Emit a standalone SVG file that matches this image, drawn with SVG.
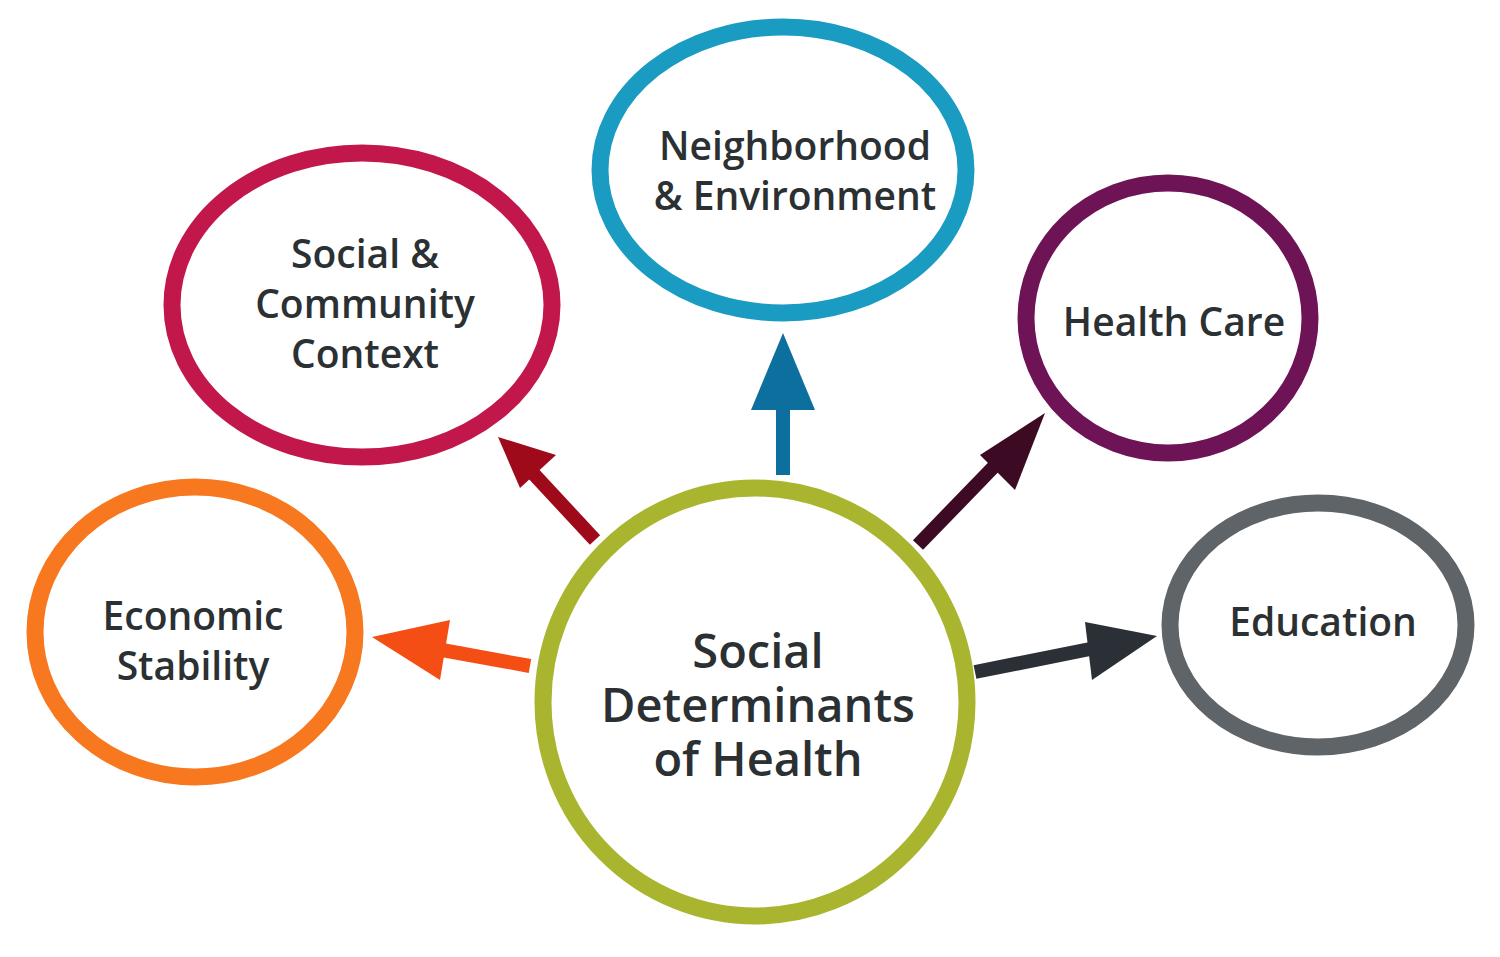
<svg xmlns="http://www.w3.org/2000/svg" width="1500" height="957" viewBox="0 0 1500 957">
<style>
.r{fill:none;stroke-width:17}
.t{font-family:"Open Sans","Liberation Sans",sans-serif;font-weight:600;fill:#2b3033;text-anchor:middle;font-size:39px}
.c{font-size:47px}
.a{stroke-width:14;fill:none}
</style>
<rect width="1500" height="957" fill="#fff"/>
<g id="connectors">
<line class="a" x1="595" y1="540" x2="530" y2="470" stroke="#9e0a1a"/><polygon points="498,437 556,455 520,488" fill="#9e0a1a"/>
<line class="a" x1="783" y1="475" x2="783" y2="380" stroke="#0d6f9e"/><polygon points="783,333 815,410 751,410" fill="#0d6f9e"/>
<line class="a" x1="918" y1="545" x2="1010" y2="450" stroke="#3d0a24"/><polygon points="1045,413 1015,490 980,455" fill="#3d0a24"/>
<line class="a" x1="975" y1="672" x2="1110" y2="645" stroke="#2a3035"/><polygon points="1157,636 1085,622 1092,680" fill="#2a3035"/>
<line class="a" x1="530" y1="666" x2="420" y2="646" stroke="#f54e14"/><polygon points="372,637 450,620 440,680" fill="#f54e14"/>
</g>
<g id="center"><ellipse class="r" cx="755" cy="702" rx="212" ry="214" stroke="#a9b52e"/>
<text class="t c" x="758" y="668">Social</text><text class="t c" x="758" y="722">Determinants</text><text class="t c" x="758" y="776">of Health</text></g>
<g id="social"><ellipse class="r" cx="362" cy="305" rx="190" ry="152" stroke="#c2174a"/>
<text class="t" x="365" y="268">Social &amp;</text><text class="t" x="365" y="318">Community</text><text class="t" x="365" y="368">Context</text></g>
<g id="neighborhood"><ellipse class="r" cx="783" cy="170" rx="183" ry="143" stroke="#1a9bc1"/>
<text class="t" x="795" y="160">Neighborhood</text><text class="t" x="795" y="210">&amp; Environment</text></g>
<g id="healthcare"><ellipse class="r" cx="1168" cy="318" rx="142" ry="135" stroke="#6d1356"/>
<text class="t" x="1174" y="336">Health Care</text></g>
<g id="economic"><ellipse class="r" cx="195" cy="632" rx="160" ry="145" stroke="#f7781f"/>
<text class="t" x="193" y="630">Economic</text><text class="t" x="193" y="680">Stability</text></g>
<g id="education"><ellipse class="r" cx="1318" cy="625" rx="148" ry="122" stroke="#5f6468"/>
<text class="t" x="1323" y="636">Education</text></g>
</svg>
